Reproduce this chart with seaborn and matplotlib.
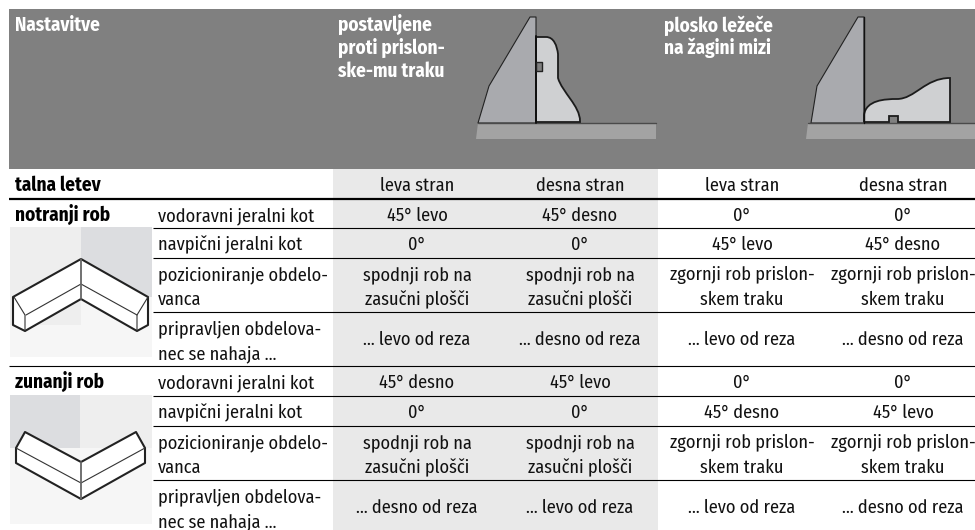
import matplotlib
matplotlib.use('Agg')
import matplotlib.pyplot as plt
from matplotlib.patches import PathPatch, Polygon, Rectangle
from matplotlib.path import Path
import seaborn as sns
import numpy as np

# table text
header_left = 'Nastavitve'
header_a = ['postavljene', 'proti prislon-', 'ske-mu traku']
header_b = ['plosko ležeče', 'na žagini mizi']
row_names = ['vodoravni jeralni kot', 'navpični jeralni kot',
             'pozicioniranje obdelo-\nvanca', 'pripravljen obdelova-\nnec se nahaja …']
foot_row = ['leva stran', 'desna stran', 'leva stran', 'desna stran']
spodnji = 'spodnji rob na\nzasučni plošči'
zgornji = 'zgornji rob prislon-\nskem traku'
inner_rows = [['45°\u2009levo', '45°\u2009desno', '0°', '0°'],
              ['0°', '0°', '45°\u2009levo', '45°\u2009desno'],
              [spodnji, spodnji, zgornji, zgornji],
              ['… levo od reza', '… desno od reza', '… levo od reza', '… desno od reza']]
outer_rows = [['45°\u2009desno', '45°\u2009levo', '0°', '0°'],
              ['0°', '0°', '45°\u2009desno', '45°\u2009levo'],
              [spodnji, spodnji, zgornji, zgornji],
              ['… desno od reza', '… levo od reza', '… levo od reza', '… desno od reza']]

# layout in pixels
col_x = [417, 580, 742, 903]
inner_base = [221, 250, 280, 334]
outer_base = [388, 418, 448, 502]
line_gap = 25
thin_rules = [(228, 153), (258, 153), (312, 153), (366, 9), (396, 153), (426, 153), (480, 153)]

# drawings
fence_a = [(530, 17), (536, 17), (536, 123), (478, 123), (489, 86)]
fence_b = [(858, 17), (864, 17), (864, 123), (811, 123), (817, 86)]
inner_shape = [(81, 259), (148, 297), (148, 325), (137, 331), (81, 299), (25, 331), (13, 325), (13, 297)]
inner_thin = [[(26, 315), (81, 284), (137, 315)], [(14, 297), (25, 315), (25, 331)], [(148, 297), (137, 315), (137, 331)]]
outer_shape = [(81, 462), (136, 432), (145, 448), (145, 463), (81, 499), (16, 463), (16, 448), (25, 432)]
outer_thin = [[(16, 448), (81, 483), (145, 448)]]

sns.set_theme(style='white')
plt.rcParams['font.family'] = ['Fira Sans Condensed', 'Roboto Condensed', 'Liberation Sans Narrow', 'Liberation Sans', 'DejaVu Sans']

fig = plt.figure(figsize=(9.75, 5.3), dpi=100)
ax = fig.add_axes([0, 0, 1, 1], zorder=2)
ax.set_xlim(0, 975)
ax.set_ylim(530, 0)
ax.axis('off')
ax.patch.set_alpha(0)

# shaded columns come from a small heatmap behind the main axes
band = fig.add_axes([333 / 975, 0, 325 / 975, 361 / 530], zorder=1)
sns.heatmap(np.ones((1, 2)), ax=band, cbar=False, cmap=sns.color_palette(['#e9e9e9']),
            xticklabels=False, yticklabels=False)

ax.add_patch(Rectangle((9, 9), 966, 160, fc='#808080', ec='none'))


def poly(points, fc='none', ec='#222222', lw=1.0, z=3):
    ax.add_patch(Polygon(points, closed=True, fc=fc, ec=ec, lw=lw, joinstyle='round', zorder=z))


def curve(verts, codes, fc='#cfd0d2'):
    ax.add_patch(PathPatch(Path(verts, codes), fc=fc, ec='#1c1c1c', lw=1.3, zorder=4))


M, L, C = Path.MOVETO, Path.LINETO, Path.CURVE4

# upper right drawings
poly(fence_a, fc='#a9aaae', lw=0.8)
ax.plot([536, 536], [36, 123], color='#111111', lw=1.4, zorder=5)
ax.add_patch(Polygon([(478, 123), (656, 123), (656, 139), (476, 139)], fc='#a3a3a3', ec='none', zorder=3))
ax.plot([478, 656], [123, 123], color='#4a4a4a', lw=1.0, zorder=4)
curve([(536, 37), (546, 37), (554, 37), (557, 46), (558, 54), (558, 62), (558, 72), (558, 78),
       (562, 92), (580, 106), (580, 121), (580, 122), (536, 122), (536, 37)],
      [M, L, C, C, C, C, C, C, C, C, C, L, L, L])
poly([(536, 62), (542, 62), (542, 71), (536, 71)], fc='#808080', lw=1.0, z=5)

poly(fence_b, fc='#a9aaae', lw=0.8)
ax.plot([864, 864], [17, 123], color='#111111', lw=1.0, zorder=5)
ax.add_patch(Polygon([(808, 123), (975, 123), (975, 139), (806, 139)], fc='#a3a3a3', ec='none', zorder=3))
ax.plot([808, 975], [123, 123], color='#4a4a4a', lw=1.0, zorder=4)
curve([(864, 122), (864, 115), (866, 100), (885, 99), (897, 99), (915, 99), (925, 78),
       (950, 78), (950, 122), (898, 122), (898, 116), (889, 116), (889, 122), (864, 122)],
      [M, L, C, C, C, C, C, C, L, L, L, L, L, L])

# corner pictures
ax.add_patch(Rectangle((10, 227), 142, 130, fc='#f6f6f6', ec='none'))
ax.add_patch(Rectangle((10, 227), 71, 98, fc='#eeeeee', ec='none'))
ax.add_patch(Rectangle((81, 227), 71, 70, fc='#dcdde0', ec='none'))
poly(inner_shape, fc='white', ec='#222222', lw=1.5)
for pts in inner_thin:
    ax.plot(*zip(*pts), color='#333333', lw=0.8, zorder=4)
ax.plot([81, 81], [259, 299], color='#666666', lw=1.3, zorder=4)

ax.add_patch(Rectangle((10, 395), 142, 129, fc='#f6f6f6', ec='none'))
ax.add_patch(Rectangle((10, 395), 70, 53, fc='#dcdde0', ec='none'))
ax.add_patch(Rectangle((80, 395), 72, 53, fc='#eeeeee', ec='none'))
ax.add_patch(Polygon([(16, 448), (25, 432), (81, 462), (81, 480)], fc='#dcdde0', ec='none', zorder=2))
poly(outer_shape, fc='white', ec='#222222', lw=1.5)
for pts in outer_thin:
    ax.plot(*zip(*pts), color='#333333', lw=0.8, zorder=4)
ax.plot([81, 81], [462, 499], color='#666666', lw=1.3, zorder=4)

# rules
ax.hlines(198.5, 9, 975, color='black', lw=1.6, zorder=5)
for y, x0 in thin_rules:
    ax.hlines(y, x0, 975, color='black', lw=0.8, zorder=5)

# text
fs = 13.2
hd = dict(color='white', fontweight='bold', fontsize=13.8, va='baseline', zorder=6)
ax.text(15, 31, header_left, **hd)
for y, s in zip([31, 54, 77], header_a):
    ax.text(338, y, s, **hd)
for y, s in zip([32, 54], header_b):
    ax.text(664, y, s, **hd)

lab = dict(color='black', fontweight='bold', fontsize=13.8, va='baseline', zorder=6)
ax.text(15, 191, 'talna letev', **lab)
ax.text(15, 221, 'notranji rob', **lab)
ax.text(15, 388, 'zunanji rob', **lab)

for x, s in zip(col_x, foot_row):
    ax.text(x, 191, s, ha='center', va='baseline', fontsize=fs, color='#111111', zorder=6)


def draw_block(bases, rows):
    for i, (base, name) in enumerate(zip(bases, row_names)):
        for j, s in enumerate(name.split('\n')):
            ax.text(158, base + j * line_gap, s, va='baseline', fontsize=fs, color='#111111', zorder=6)
        for x, cell in zip(col_x, rows[i]):
            parts = cell.split('\n')
            if i == 3:
                ax.text(x, base + 11, cell, ha='center', va='baseline', fontsize=fs, color='#111111', zorder=6)
            else:
                for j, s in enumerate(parts):
                    ax.text(x, base + j * line_gap, s, ha='center', va='baseline', fontsize=fs,
                            color='#111111', zorder=6)


draw_block(inner_base, inner_rows)
draw_block(outer_base, outer_rows)

plt.savefig('out.png', dpi=100)
